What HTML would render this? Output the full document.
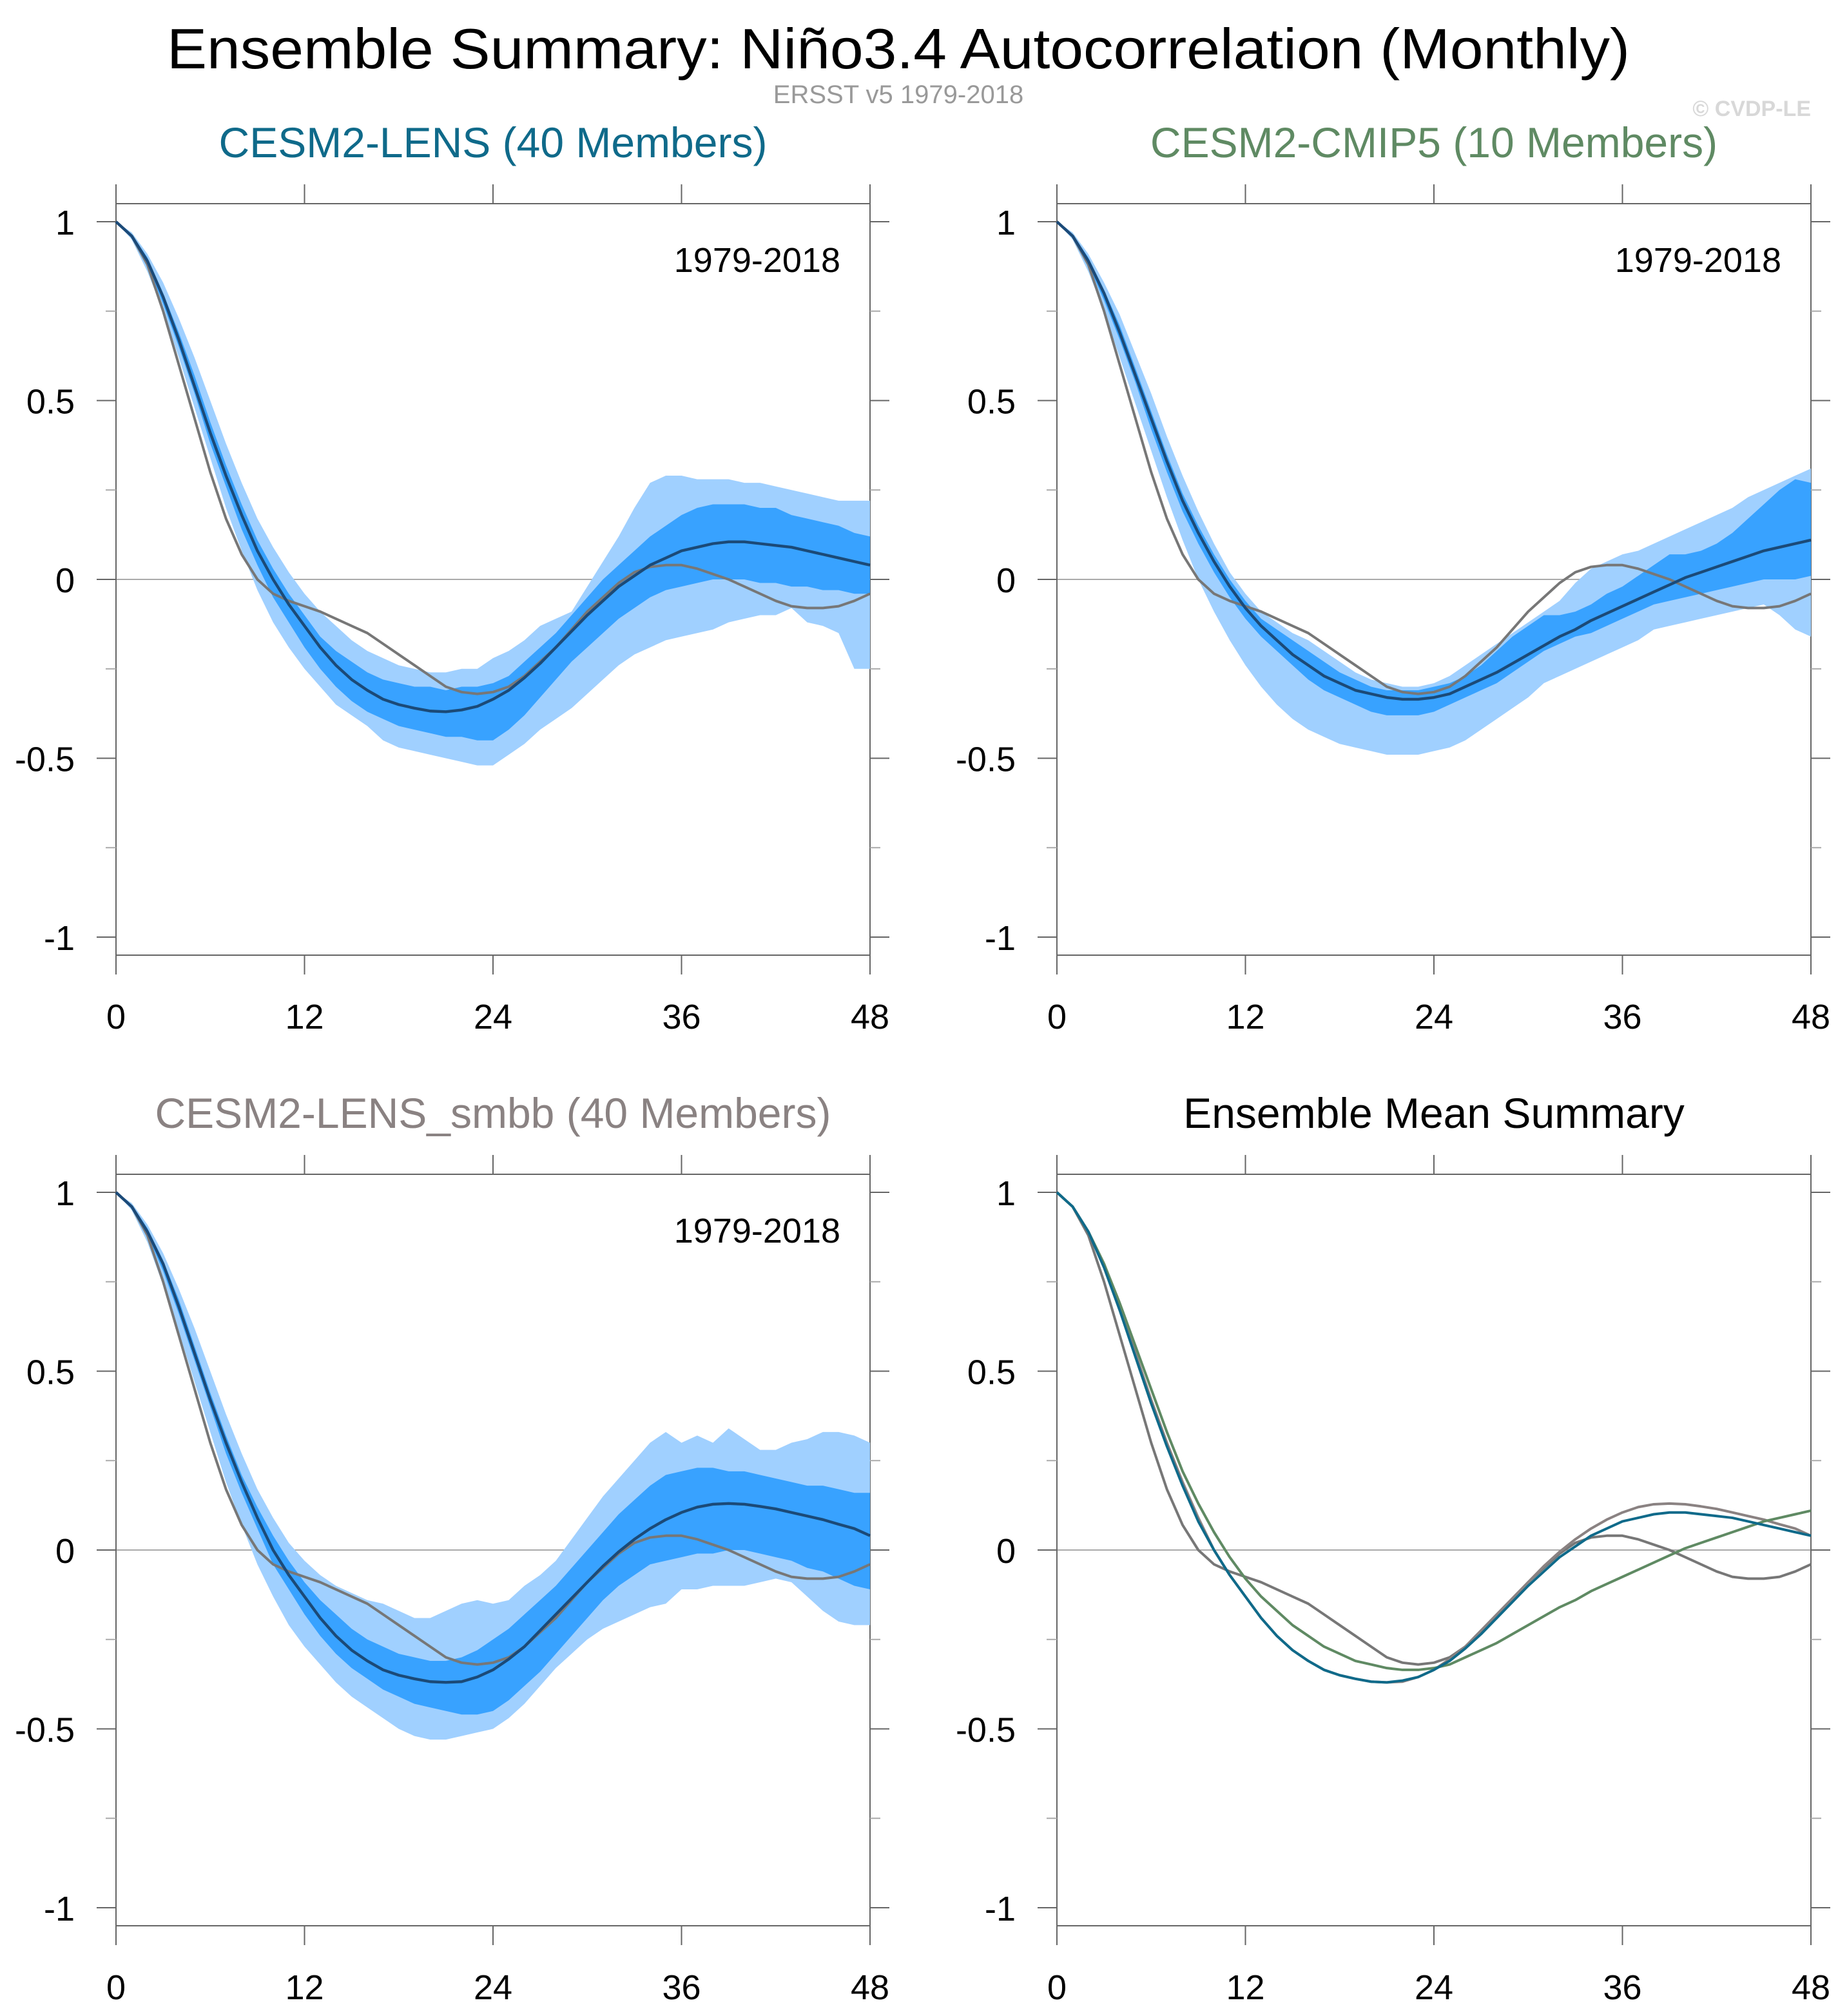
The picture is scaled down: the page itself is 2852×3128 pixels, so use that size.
<!DOCTYPE html>
<html><head><meta charset="utf-8"><style>
html,body{margin:0;padding:0;background:#fff;}
svg{display:block;font-family:"Liberation Sans",sans-serif;}
</style></head><body>
<svg id="fig" width="2852" height="3128" viewBox="0 0 1426 1564" xmlns="http://www.w3.org/2000/svg">
<text x="697" y="53" font-size="44" text-anchor="middle" textLength="1135" lengthAdjust="spacingAndGlyphs">Ensemble Summary: Niño3.4 Autocorrelation (Monthly)</text>
<text x="697" y="80" font-size="20" fill="#999" text-anchor="middle">ERSST v5 1979-2018</text>
<text x="1405" y="90" font-size="17" font-weight="bold" fill="#d8d8d8" text-anchor="end">© CVDP-LE</text>
<g id="panels"></g>
</svg>
<script>
const lags = Array.from({length:49},(_,i)=>i);
const xTicks = [0,12,24,36,48];
const yTicks = [1,0.5,0,-0.5,-1];
const yTickLabels = ["1","0.5","0","-0.5","-1"];
const obs = [1,.96,.88,.75,.6,.45,.3,.17,.07,0,-.04,-.06,-.075,-.09,-.11,-.13,-.15,-.18,-.21,-.24,-.27,-.3,-.315,-.32,-.315,-.3,-.27,-.23,-.19,-.14,-.09,-.05,-.01,.02,.035,.04,.04,.03,.015,0,-.02,-.04,-.06,-.075,-.08,-.08,-.075,-.06,-.04];
const lensMean = [1,.96,.89,.79,.67,.54,.41,.29,.18,.08,0,-.07,-.13,-.19,-.24,-.28,-.31,-.335,-.35,-.36,-.368,-.37,-.365,-.355,-.335,-.31,-.275,-.235,-.19,-.145,-.1,-.06,-.02,.01,.04,.06,.08,.09,.1,.105,.105,.1,.095,.09,.08,.07,.06,.05,.04];
const lensLightHi = [1,.97,.91,.83,.73,.62,.5,.38,.27,.17,.09,.02,-.04,-.09,-.13,-.17,-.2,-.22,-.24,-.25,-.26,-.26,-.25,-.25,-.22,-.2,-.17,-.13,-.11,-.09,-.02,.05,.12,.2,.27,.29,.29,.28,.28,.28,.27,.27,.26,.25,.24,.23,.22,.22,.22];
const lensLightLo = [1,.95,.86,.75,.62,.48,.34,.2,.08,-.03,-.12,-.19,-.25,-.3,-.35,-.38,-.41,-.45,-.47,-.48,-.49,-.5,-.51,-.52,-.52,-.49,-.46,-.42,-.39,-.36,-.32,-.28,-.24,-.21,-.19,-.17,-.16,-.15,-.14,-.12,-.11,-.1,-.1,-.08,-.12,-.13,-.15,-.25,-.25];
const lensDarkHi = [1,.965,.9,.8,.69,.57,.44,.32,.21,.11,.03,-.04,-.1,-.16,-.2,-.23,-.26,-.28,-.29,-.3,-.3,-.31,-.3,-.3,-.29,-.27,-.23,-.19,-.15,-.1,-.05,0,.04,.08,.12,.15,.18,.2,.21,.21,.21,.2,.2,.18,.17,.16,.15,.13,.12];
const lensDarkLo = [1,.955,.88,.77,.65,.52,.38,.26,.14,.04,-.05,-.12,-.19,-.25,-.3,-.34,-.37,-.39,-.41,-.42,-.43,-.44,-.44,-.45,-.45,-.42,-.38,-.33,-.28,-.23,-.19,-.15,-.11,-.08,-.05,-.03,-.02,-.01,0,0,0,-.01,-.01,-.02,-.02,-.03,-.03,-.04,-.04];
const cmipMean = [1,.96,.89,.8,.69,.57,.45,.33,.22,.13,.05,-.02,-.08,-.13,-.17,-.21,-.24,-.27,-.29,-.31,-.32,-.33,-.335,-.335,-.33,-.32,-.3,-.28,-.26,-.235,-.21,-.185,-.16,-.14,-.115,-.095,-.075,-.055,-.035,-.015,.005,.02,.035,.05,.065,.08,.09,.1,.11];
const cmipLightHi = [1,.97,.91,.83,.74,.63,.52,.4,.29,.19,.1,.02,-.04,-.09,-.12,-.15,-.17,-.2,-.23,-.26,-.28,-.29,-.3,-.3,-.29,-.27,-.24,-.21,-.18,-.15,-.12,-.09,-.06,-.01,.03,.05,.07,.08,.1,.12,.14,.16,.18,.2,.23,.25,.27,.29,.31];
const cmipLightLo = [1,.95,.86,.75,.62,.49,.36,.23,.11,0,-.09,-.17,-.24,-.3,-.35,-.39,-.42,-.44,-.46,-.47,-.48,-.49,-.49,-.49,-.48,-.47,-.45,-.42,-.39,-.36,-.33,-.29,-.27,-.25,-.23,-.21,-.19,-.17,-.14,-.13,-.12,-.11,-.1,-.09,-.08,-.07,-.1,-.14,-.16];
const cmipDarkHi = [1,.965,.9,.81,.71,.59,.47,.35,.24,.15,.07,0,-.06,-.11,-.14,-.17,-.2,-.23,-.26,-.28,-.3,-.31,-.31,-.31,-.3,-.29,-.27,-.24,-.2,-.16,-.13,-.1,-.1,-.09,-.07,-.04,-.02,.01,.04,.07,.07,.08,.1,.13,.17,.21,.25,.28,.27];
const cmipDarkLo = [1,.955,.88,.78,.67,.55,.42,.3,.19,.1,.02,-.05,-.11,-.16,-.2,-.24,-.28,-.31,-.33,-.35,-.37,-.38,-.38,-.38,-.37,-.35,-.33,-.31,-.29,-.26,-.23,-.2,-.18,-.16,-.15,-.13,-.11,-.09,-.07,-.06,-.05,-.04,-.03,-.02,-.01,0,0,0,.01];
const smbbMean = [1,.96,.89,.8,.68,.55,.42,.3,.19,.09,0,-.07,-.13,-.19,-.24,-.28,-.31,-.335,-.35,-.36,-.368,-.37,-.368,-.355,-.335,-.305,-.27,-.225,-.18,-.135,-.09,-.045,-.005,.03,.06,.085,.105,.12,.128,.13,.128,.122,.115,.105,.095,.085,.072,.06,.04];
const smbbLightHi = [1,.97,.91,.83,.73,.62,.5,.38,.27,.17,.09,.02,-.03,-.07,-.1,-.12,-.14,-.15,-.17,-.19,-.19,-.17,-.15,-.14,-.15,-.14,-.1,-.07,-.03,.03,.09,.15,.2,.25,.3,.33,.3,.32,.3,.34,.31,.28,.28,.3,.31,.33,.33,.32,.3];
const smbbLightLo = [1,.95,.86,.74,.61,.47,.33,.19,.07,-.04,-.13,-.21,-.27,-.32,-.37,-.41,-.44,-.47,-.5,-.52,-.53,-.53,-.52,-.51,-.5,-.47,-.43,-.38,-.33,-.29,-.25,-.22,-.2,-.18,-.16,-.15,-.11,-.11,-.1,-.1,-.1,-.09,-.08,-.09,-.13,-.17,-.2,-.21,-.21];
const smbbDarkHi = [1,.965,.9,.81,.7,.57,.44,.32,.21,.12,.04,-.03,-.09,-.14,-.18,-.22,-.25,-.27,-.29,-.3,-.31,-.31,-.3,-.28,-.25,-.22,-.18,-.14,-.1,-.05,0,.05,.1,.14,.18,.21,.22,.23,.23,.22,.22,.21,.2,.19,.18,.18,.17,.16,.16];
const smbbDarkLo = [1,.955,.88,.78,.66,.53,.4,.27,.16,.06,-.04,-.11,-.18,-.24,-.29,-.33,-.36,-.39,-.41,-.43,-.44,-.45,-.46,-.46,-.45,-.42,-.38,-.34,-.29,-.24,-.19,-.14,-.1,-.07,-.04,-.03,-.02,-.01,-.01,0,0,-.01,-.02,-.03,-.05,-.06,-.08,-.1,-.11];

const NS="http://www.w3.org/2000/svg";
const root=document.getElementById('panels');
function mk(tag,attrs,parent){const e=document.createElementNS(NS,tag);for(const k in attrs)e.setAttribute(k,attrs[k]);(parent||root).appendChild(e);return e;}

function panel(px,py,title,titleColor,showYears,name){
  const x0=px,x1=px+585,top=py,bot=py+583;
  const xs=v=>x0+(v/48)*(x1-x0);
  const ys=v=>py+291.5-v*277.5;
  const g=mk('g',{});
  
  
  const t=mk('text',{x:(x0+x1)/2,y:top-36,'font-size':33,fill:titleColor,'text-anchor':'middle'},g);
  t.textContent=title;
  
  
  const zl=mk('line',{x1:x0,x2:x1,y1:ys(0),y2:ys(0),stroke:'#aaa','stroke-width':1},g);
  
  
  const band=(hi,lo,col,nm)=>{
    let d='M'+lags.map(i=>xs(i)+','+ys(hi[i])).join('L');
    d+='L'+lags.slice().reverse().map(i=>xs(i)+','+ys(lo[i])).join('L')+'Z';
    const p=mk('path',{d:d,fill:col,stroke:'none'},g);
    
    
  };
  const line=(arr,col,w,nm)=>{
    const p=mk('path',{d:'M'+lags.map(i=>xs(i)+','+ys(arr[i])).join('L'),fill:'none',stroke:col,'stroke-width':w,'stroke-linejoin':'round'},g);
    
    
  };
  const fr=mk('rect',{x:x0,y:top,width:x1-x0,height:bot-top,fill:'none',stroke:'#666','stroke-width':1},g);
  
  
  xTicks.forEach(v=>{
    const X=xs(v);
    mk('line',{x1:X,x2:X,y1:bot,y2:bot+15,stroke:'#666','stroke-width':1},g);
    mk('line',{x1:X,x2:X,y1:top,y2:top-15,stroke:'#666','stroke-width':1},g);
    const l=mk('text',{x:X,y:bot+57,'font-size':27,'text-anchor':'middle'},g);
    l.textContent=String(v);
    
    
  });
  yTicks.forEach((v,k)=>{
    const Y=ys(v);
    mk('line',{x1:x0-15,x2:x0,y1:Y,y2:Y,stroke:'#666','stroke-width':1},g);
    mk('line',{x1:x1,x2:x1+15,y1:Y,y2:Y,stroke:'#666','stroke-width':1},g);
    const l=mk('text',{x:x0-32,y:Y+10,'font-size':27,'text-anchor':'end'},g);
    l.textContent=yTickLabels[k];
    
    
  });
  [0.75,0.25,-0.25,-0.75].forEach(v=>{
    const Y=ys(v);
    mk('line',{x1:x0-8,x2:x0,y1:Y,y2:Y,stroke:'#aaa','stroke-width':1},g);
    mk('line',{x1:x1,x2:x1+8,y1:Y,y2:Y,stroke:'#aaa','stroke-width':1},g);
  });
  if(showYears){
    const yt=mk('text',{x:x1-23,y:top+53,'font-size':27,'text-anchor':'end'},g);
    yt.textContent='1979-2018';
    
    
  }
  return {band,line};
}

let p=panel(90,158,'CESM2-LENS (40 Members)','#0f6a8a',true,'panel-cesm2-lens');
p.band(lensLightHi,lensLightLo,'#a0d0ff','lens-spread-outer');
p.band(lensDarkHi,lensDarkLo,'#38a2ff','lens-spread-inner');
p.line(obs,'#777',2,'obs-line');
p.line(lensMean,'#1b4a78',2.2,'lens-mean-line');

p=panel(820,158,'CESM2-CMIP5 (10 Members)','#5f8a63',true,'panel-cesm2-cmip5');
p.band(cmipLightHi,cmipLightLo,'#a0d0ff','cmip5-spread-outer');
p.band(cmipDarkHi,cmipDarkLo,'#38a2ff','cmip5-spread-inner');
p.line(obs,'#777',2,'obs-line');
p.line(cmipMean,'#1b4a78',2.2,'cmip5-mean-line');

p=panel(90,911,'CESM2-LENS_smbb (40 Members)','#8a8282',true,'panel-cesm2-lens-smbb');
p.band(smbbLightHi,smbbLightLo,'#a0d0ff','smbb-spread-outer');
p.band(smbbDarkHi,smbbDarkLo,'#38a2ff','smbb-spread-inner');
p.line(obs,'#777',2,'obs-line');
p.line(smbbMean,'#1b4a78',2.2,'smbb-mean-line');

p=panel(820,911,'Ensemble Mean Summary','#000',false,'panel-ensemble-mean-summary');
p.line(obs,'#777',2,'obs-line');
p.line(smbbMean,'#8a8282',2,'smbb-mean-line');
p.line(cmipMean,'#5f8a63',2,'cmip5-mean-line');
p.line(lensMean,'#0f6a8a',2,'lens-mean-line');
</script>
</body></html>
